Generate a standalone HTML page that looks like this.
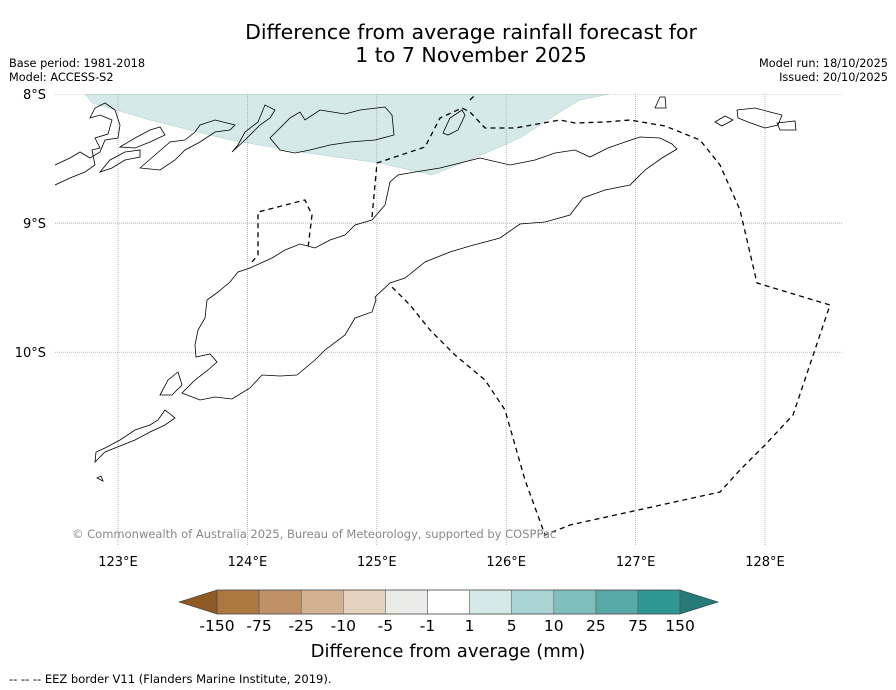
<!DOCTYPE html>
<html><head><meta charset="utf-8"><style>
body{margin:0;background:#fff;font-family:"Liberation Sans","DejaVu Sans",sans-serif}
#c{position:relative;width:896px;height:690px;overflow:hidden}
svg text{font-family:"DejaVu Sans","Liberation Sans",sans-serif}
</style></head><body>
<div id="c">
<svg width="896" height="690" id="svg">
<text x="471" y="39" text-anchor="middle" font-size="20.5">Difference from average rainfall forecast for</text>
<text x="471" y="62" text-anchor="middle" font-size="20.5">1 to 7 November 2025</text>
<text x="9" y="67" font-size="11.3">Base period: 1981-2018</text>
<text x="9" y="81" font-size="11.3">Model: ACCESS-S2</text>
<text x="888" y="67" font-size="11.3" text-anchor="end">Model run: 18/10/2025</text>
<text x="888" y="81" font-size="11.3" text-anchor="end">Issued: 20/10/2025</text>
<defs><clipPath id="mapclip"><rect x="55" y="94" width="788" height="452"/></clipPath></defs>
<g clip-path="url(#mapclip)">
<polygon fill="#d5eae8" stroke="#a8cfcc" stroke-width="0.5" points="85,94 92,103 150,120 230,140 300,152 380,163 432,175 470,160 520,138 560,112 580,100 610,94"/>
<g id="grid"></g>
<g fill="none" stroke="#000" stroke-width="0.8">
<path d="M375,297 L390,283 L405,278 L425,262 L450,252 L470,246 L500,238 L520,224 L545,222 L570,215 L583,198 L605,190 L630,185 L645,170 L662,158 L677,149 L672,144 L660,138 L640,137 L625,142 L608,148 L590,157 L575,150 L555,153 L535,160 L510,165 L480,158 L460,163 L440,168 L415,172 L398,175 L390,182 L385,205 L372,220 L355,225 L345,235 L330,240 L315,248 L300,244 L285,250 L272,258 L250,268 L238,272 L230,282 L218,292 L207,300 L205,318 L198,330 L195,345 L196,357 L210,354 L217,362 L208,370 L195,380 L182,393 L200,400 L215,397 L232,399 L250,388 L262,375 L280,376 L297,375 L315,360 L325,350 L345,335 L355,318 L372,312 L376,300 Z"/>
<path d="M270,138 L280,128 L290,118 L300,112 L305,120 L320,110 L345,114 L360,110 L385,107 L392,115 L394,135 L375,140 L350,142 L330,145 L310,150 L295,153 L280,150 Z"/>
<path d="M232,152 L245,140 L255,130 L260,125 L270,118 L275,110 L265,105 L258,122 L245,132 L238,145 Z"/>
<path d="M140,168 L155,155 L170,142 L185,140 L195,132 L200,125 L215,120 L235,125 L230,130 L215,132 L200,142 L185,150 L175,160 L160,170 Z"/>
<path d="M100,172 L110,160 L125,152 L140,150 L140,157 L125,160 L112,168 Z"/>
<path d="M120,147 L135,138 L150,130 L160,127 L165,135 L150,142 L135,148 Z"/>
<path d="M55,185 L70,178 L85,172 L95,165 L92,150 L100,148 L95,138 L108,134 L112,120 L100,115 L90,118 L95,108 L105,103 L115,110 L120,125 L118,138 L105,140 L100,152 L90,158 L80,152 L70,158 L55,165"/>
<path d="M443,133 L450,118 L462,110 L465,115 L458,130 L448,135 Z"/>
<path d="M95,462 L105,452 L120,446 L135,440 L150,432 L165,425 L175,418 L165,410 L158,420 L150,425 L135,430 L120,440 L105,448 L96,452 Z"/>
<path d="M160,395 L168,380 L178,372 L182,385 L172,395 Z"/>
<path d="M655,108 L660,97 L665,97 L666,108 Z"/>
<path d="M715,122 L725,116 L733,120 L722,126 Z"/>
<path d="M737,110 L755,108 L770,112 L782,115 L778,125 L765,128 L748,122 L738,118 Z"/>
<path d="M777,123 L795,121 L796,130 L780,130 Z"/>
<path d="M97,478 L101,476 L103,481 Z"/>
</g>
<g fill="none" stroke="#000" stroke-width="1.3" stroke-dasharray="5,4">
<polyline points="252,262 258,255 258,212 305,200 312,215 308,248"/>
<polyline points="372,217 377,163 425,147 440,118 462,108 470,112 485,128 515,128 560,120 575,123 605,122 630,120 665,126 700,140 720,165 740,210 757,283 830,305 793,415 765,445 740,470 720,492 570,525 545,535 525,480 505,410 485,380 455,355 430,330 410,305 390,285"/>
<polyline points="470,100 476,94"/>
</g>
<text x="72" y="538" font-size="11.5" fill="#888">© Commonwealth of Australia 2025, Bureau of Meteorology, supported by COSPPac</text>
</g>
<g id="axes"></g>
<g id="cbar"></g>
<text x="448" y="657" text-anchor="middle" font-size="18">Difference from average (mm)</text>
<text x="9" y="683" font-size="11.5">--  --  -- EEZ border V11 (Flanders Marine Institute, 2019).</text>
</svg>
</div>
<script>
const lonTicks=[123,124,125,126,127,128];
const latTicks=[8,9,10];
const levelLabels=["-150","-75","-25","-10","-5","-1","1","5","10","25","75","150"];
const levelColors=["#ad7840","#c09166","#d3b291","#e5d2be","#ebebea","#ffffff","#d5eae8","#abd5d3","#7fc0bd","#56a9a7","#2e9693"];
const NS="http://www.w3.org/2000/svg";
function xOf(lon){return 118+(lon-123)*129.4;}
function yOf(lat){return 94+(lat-8)*129.1;}
function mk(t,a,p){const e=document.createElementNS(NS,t);for(const k in a)e.setAttribute(k,a[k]);p.appendChild(e);return e;}
const grid=document.getElementById('grid'),axes=document.getElementById('axes'),cb=document.getElementById('cbar');
lonTicks.forEach(l=>{
 const ln=mk('line',{x1:xOf(l),x2:xOf(l),y1:94,y2:546,stroke:'#999','stroke-width':0.7,'stroke-dasharray':'1,1'},grid);
 
 
 const t=mk('text',{x:xOf(l),y:566,'text-anchor':'middle','font-size':13},axes);t.textContent=l+'°E';
 
 
});
latTicks.forEach(l=>{
 const ln=mk('line',{x1:55,x2:843,y1:yOf(l),y2:yOf(l),stroke:'#999','stroke-width':0.7,'stroke-dasharray':'1,1'},grid);
 
 
 const t=mk('text',{x:46,y:yOf(l)+5,'text-anchor':'end','font-size':13},axes);t.textContent=l+'°S';
 
 
});
const x0=217,w=42.1,y0=590,h=24;
levelColors.forEach((c,i)=>{
 const r=mk('rect',{x:x0+i*w,y:y0,width:w,height:h,fill:c,stroke:'#555','stroke-width':0.5},cb);
 
 
});
const xe=x0+levelColors.length*w;
const tl=mk('polygon',{points:`${x0},${y0} 179,${y0+h/2} ${x0},${y0+h}`,fill:'#8f5a23',stroke:'#333','stroke-width':0.6},cb);


const tr=mk('polygon',{points:`${xe},${y0} ${xe+38},${y0+h/2} ${xe},${y0+h}`,fill:'#267a77',stroke:'#333','stroke-width':0.6},cb);


const fr=mk('rect',{x:x0,y:y0,width:xe-x0,height:h,fill:'none',stroke:'#555','stroke-width':0.8},cb);


levelLabels.forEach((s,i)=>{
 const t=mk('text',{x:x0+i*w,y:631,'text-anchor':'middle','font-size':15.5},cb);t.textContent=s;
 
 
});
</script>
</body></html>
